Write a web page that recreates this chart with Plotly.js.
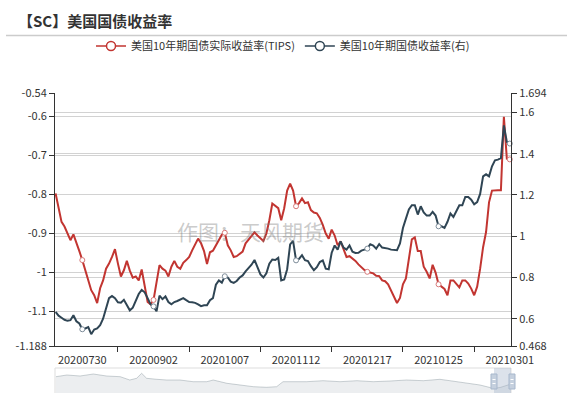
<!DOCTYPE html>
<html>
<head>
<meta charset="utf-8">
<script src="https://cdn.plot.ly/plotly-3.0.1.min.js"></script>
<style>
html,body{margin:0;padding:0;background:#fff;}
#chart{width:567px;height:393px;}
</style>
</head>
<body>
<div id="chart"></div>
<script>
// ---- data ----
var tipsYield = [
-0.797,-0.835,-0.870,-0.882,-0.900,-0.917,-0.902,-0.921,-0.945,-0.968,
-0.995,-1.020,-1.045,-1.058,-1.078,-1.040,-1.020,-0.990,-0.977,-0.960,
-0.940,-0.977,-1.010,-0.994,-0.970,-0.995,-1.013,-1.010,-1.020,-0.992,
-1.030,-1.075,-1.081,-1.070,-1.025,-0.981,-0.990,-0.995,-1.010,-0.985,
-0.970,-0.985,-0.990,-0.975,-0.968,-0.960,-0.943,-0.927,-0.913,-0.925,
-0.945,-0.978,-0.948,-0.944,-0.930,-0.920,-0.903,-0.898,-0.930,-0.943,
-0.960,-0.958,-0.952,-0.946,-0.925,-0.915,-0.905,-0.897,-0.905,-0.913,
-0.919,-0.900,-0.866,-0.823,-0.830,-0.835,-0.866,-0.835,-0.790,-0.772,
-0.790,-0.830,-0.822,-0.810,-0.822,-0.820,-0.840,-0.846,-0.848,-0.860,
-0.878,-0.900,-0.913,-0.890,-0.905,-0.930,-0.920,-0.940,-0.960,-0.958,
-0.963,-0.970,-0.979,-0.987,-0.993,-0.998,-1.000,-1.002,-1.008,-1.009,
-1.020,-1.022,-1.030,-1.045,-1.062,-1.078,-1.065,-1.030,-1.015,-0.965,
-0.915,-0.910,-0.945,-0.945,-0.985,-0.998,-1.015,-0.980,-1.000,-1.030,
-1.035,-1.042,-1.058,-1.020,-1.020,-1.028,-1.038,-1.020,-1.020,-1.028,
-1.041,-1.058,-1.036,-0.990,-0.935,-0.896,-0.820,-0.790,-0.789,-0.789,
-0.789,-0.601,-0.708,-0.710
];
var nominalYield = [
0.633,0.615,0.605,0.595,0.590,0.593,0.617,0.588,0.577,0.549,
0.553,0.560,0.525,0.548,0.553,0.569,0.600,0.655,0.700,0.710,
0.700,0.680,0.678,0.692,0.665,0.641,0.654,0.690,0.720,0.740,
0.728,0.700,0.670,0.660,0.636,0.712,0.695,0.708,0.681,0.670,
0.681,0.686,0.693,0.700,0.690,0.681,0.680,0.677,0.670,0.661,
0.665,0.665,0.690,0.700,0.765,0.786,0.775,0.806,0.800,0.780,
0.774,0.783,0.800,0.810,0.830,0.845,0.862,0.885,0.850,0.815,
0.800,0.820,0.867,0.887,0.885,0.895,0.786,0.790,0.840,0.960,
0.977,0.883,0.890,0.908,0.884,0.880,0.855,0.835,0.850,0.875,
0.883,0.843,0.840,0.920,0.955,0.935,0.975,0.945,0.935,0.955,
0.925,0.919,0.920,0.930,0.935,0.940,0.961,0.955,0.940,0.962,
0.945,0.943,0.940,0.935,0.932,0.932,0.965,1.040,1.085,1.130,
1.150,1.150,1.105,1.145,1.115,1.100,1.100,1.118,1.100,1.048,
1.048,1.040,1.070,1.110,1.093,1.125,1.150,1.150,1.190,1.190,
1.177,1.155,1.165,1.205,1.290,1.300,1.290,1.339,1.368,1.371,
1.378,1.537,1.457,1.449
];
var labelIdx  = [9, 33, 57, 81, 105, 129, 153];
var labelText = ['20200730','20200902','20201007','20201112','20201217','20210125','20210301'];
var leftTicks  = [-0.54,-0.6,-0.7,-0.8,-0.9,-1,-1.1,-1.188];
var leftText   = ['-0.54','-0.6','-0.7','-0.8','-0.9','-1','-1.1','-1.188'];
var rightTicks = [0.468,0.6,0.8,1,1.2,1.4,1.6,1.694];
var rightText  = ['0.468','0.6','0.8','1','1.2','1.4','1.6','1.694'];
// overview strip (data zoom background), position 0..1 and height
var overviewPos = [0.002,0.026,0.055,0.084,0.113,0.143,0.164,0.179,0.190,0.201,0.223,0.245,0.274,0.303,0.333,0.347,0.377,0.406,0.435,0.464,0.486,0.500,0.515,0.552,0.588,0.625,0.662,0.698,0.735,0.771,0.808,0.844,0.866,0.903,0.932,0.961,0.976,1.0];
var overviewVal = [16.3,18,17,19,17,16.3,13,14.7,19.7,14.7,13.7,13,13,11.3,11.3,13,9.7,8,6.3,5.7,6.3,11.3,11.3,11.3,12.3,11.3,12.3,11.3,12,13,12.3,13.7,12.3,10.3,8,4.7,5.5,9];
var zoomStart = 0.9627, zoomEnd = 1.0;

var names = ['美国10年期国债实际收益率(TIPS)', '美国10年期国债收益率(右)'];
var colors = ['#c23531', '#2f4554'];

var idx = tipsYield.map(function(_, i){ return i; });
var FONT = '"Noto Sans CJK SC", "Noto Sans", sans-serif';

var traces = [
  {x: overviewPos, y: overviewVal, xaxis: 'x3', yaxis: 'y3', type: 'scatter', mode: 'lines',
   fill: 'tozeroy', fillcolor: 'rgba(47,69,84,0.09)', line: {color: 'rgba(47,69,84,0.3)', width: 0.8},
   showlegend: false, hoverinfo: 'skip'},
  {x: idx, y: tipsYield, type: 'scatter', mode: 'lines', line: {color: colors[0], width: 2},
   showlegend: false, yaxis: 'y'},
  {x: idx, y: nominalYield, type: 'scatter', mode: 'lines', line: {color: colors[1], width: 2},
   showlegend: false, yaxis: 'y2'},
  {x: labelIdx, y: labelIdx.map(function(i){ return tipsYield[i]; }), type: 'scatter', mode: 'markers',
   marker: {size: 5, color: '#fff', line: {color: '#d77a7a', width: 1}}, showlegend: false, yaxis: 'y', cliponaxis: false},
  {x: labelIdx, y: labelIdx.map(function(i){ return nominalYield[i]; }), type: 'scatter', mode: 'markers',
   marker: {size: 5, color: '#fff', line: {color: '#7d8c99', width: 1}}, showlegend: false, yaxis: 'y2', cliponaxis: false},
  {x: [null], y: [null], type: 'scatter', mode: 'lines+markers', name: names[0],
   line: {color: colors[0], width: 1.5}, marker: {size: 9, color: '#fff', line: {color: colors[0], width: 1.5}}},
  {x: [null], y: [null], type: 'scatter', mode: 'lines+markers', name: names[1], yaxis: 'y2',
   line: {color: colors[1], width: 1.5}, marker: {size: 9, color: '#fff', line: {color: colors[1], width: 1.5}}}
];

var W = 567, H = 393, L = 55, R = 56, T = 93, B = 0;
var pw = W - L - R, ph = H - T - B;
function px(x){ return (x - L) / pw; }
function py(y){ return (H - B - y) / ph; }

var layout = {
  width: W, height: H,
  margin: {l: L, r: R, t: T, b: B, pad: 0},
  paper_bgcolor: '#fff', plot_bgcolor: 'rgba(0,0,0,0)',
  font: {family: FONT, size: 11, color: '#333'},
  title: {text: '【SC】美国国债收益率', font: {family: FONT, size: 15, color: '#333', weight: 'bold'},
          xref: 'container', x: 18 / W, xanchor: 'left', yref: 'container', y: 1 - 22 / H, yanchor: 'middle'},
  showlegend: true,
  legend: {orientation: 'h', x: 0.5, xanchor: 'center', y: py(46), yanchor: 'middle',
           font: {family: FONT, size: 11, color: '#333'}, bgcolor: 'rgba(0,0,0,0)', itemwidth: 30},
  xaxis: {domain: [0, 1], anchor: 'y', range: [-0.2, 153.4], tickmode: 'array', tickvals: labelIdx, ticktext: labelText,
          ticks: '', showline: true, linecolor: '#333', linewidth: 1, showgrid: false, zeroline: false,
          tickfont: {family: FONT, size: 11, color: '#333'}, ticklabelstandoff: 4, fixedrange: true,
          minor: {tickmode: 'linear', tick0: 21, dtick: 24, ticks: 'outside', ticklen: 5, tickcolor: '#333', tickwidth: 1, showgrid: false}},
  yaxis: {domain: [py(346), 1], range: [-1.188, -0.54], tickmode: 'array', tickvals: leftTicks, ticktext: leftText,
          ticks: 'outside', ticklen: 5, tickcolor: '#333', showline: true, linecolor: '#333', linewidth: 1,
          showgrid: true, gridcolor: '#d2d2d2', gridwidth: 1, zeroline: false,
          tickfont: {family: FONT, size: 11, color: '#333'}},
  yaxis2: {overlaying: 'y', side: 'right', anchor: 'x', range: [0.468, 1.694], tickmode: 'array', tickvals: rightTicks, ticktext: rightText,
           ticks: 'outside', ticklen: 5, tickcolor: '#333', showline: true, linecolor: '#333', linewidth: 1,
           showgrid: true, gridcolor: '#d2d2d2', gridwidth: 1, zeroline: false,
           tickfont: {family: FONT, size: 11, color: '#333'}},
  xaxis3: {domain: [0, 1], anchor: 'y3', range: [0, 1], visible: false, fixedrange: true},
  yaxis3: {domain: [0, py(368)], range: [0, H - 368], visible: false, fixedrange: true},
  annotations: [
    {text: '作图：天风期货', xref: 'paper', yref: 'paper', x: px(250), y: py(231), showarrow: false,
     font: {family: FONT, size: 21, color: 'rgba(120,120,120,0.4)'}, xanchor: 'center', yanchor: 'middle'}
  ],
  shapes: [
    {type: 'line', xref: 'paper', yref: 'paper', x0: px(6), x1: px(567), y0: py(35.5), y1: py(35.5),
     line: {color: '#cccccc', width: 1.5}},
    // data zoom frame
    {type: 'rect', xref: 'paper', yref: 'paper', x0: 0, x1: 1, y0: py(400), y1: py(368),
     line: {color: '#dddddd', width: 1}, fillcolor: 'rgba(0,0,0,0)'},
    // selected window
    {type: 'rect', xref: 'paper', yref: 'paper', x0: zoomStart, x1: zoomEnd, y0: py(400), y1: py(368),
     line: {width: 0}, fillcolor: 'rgba(167,183,204,0.4)'},
    {type: 'rect', xref: 'paper', yref: 'paper', x0: zoomStart - 3/pw, x1: zoomStart + 3/pw, y0: py(389), y1: py(374),
     line: {color: '#a7b7cc', width: 1}, fillcolor: '#c5d0de'},
    {type: 'rect', xref: 'paper', yref: 'paper', x0: zoomEnd - 2/pw, x1: zoomEnd + 4/pw, y0: py(389), y1: py(374),
     line: {color: '#a7b7cc', width: 1}, fillcolor: '#c5d0de'},
    {type: 'line', xref: 'paper', yref: 'paper', x0: zoomStart - 1.5/pw, x1: zoomStart + 1.5/pw, y0: py(379.5), y1: py(379.5), line: {color: '#ffffff', width: 1}},
    {type: 'line', xref: 'paper', yref: 'paper', x0: zoomStart - 1.5/pw, x1: zoomStart + 1.5/pw, y0: py(383.5), y1: py(383.5), line: {color: '#ffffff', width: 1}},
    {type: 'line', xref: 'paper', yref: 'paper', x0: zoomEnd - 0.5/pw, x1: zoomEnd + 2.5/pw, y0: py(379.5), y1: py(379.5), line: {color: '#ffffff', width: 1}},
    {type: 'line', xref: 'paper', yref: 'paper', x0: zoomEnd - 0.5/pw, x1: zoomEnd + 2.5/pw, y0: py(383.5), y1: py(383.5), line: {color: '#ffffff', width: 1}}
  ]
};

Plotly.newPlot('chart', traces, layout, {displayModeBar: false, staticPlot: true});
</script>
</body>
</html>
